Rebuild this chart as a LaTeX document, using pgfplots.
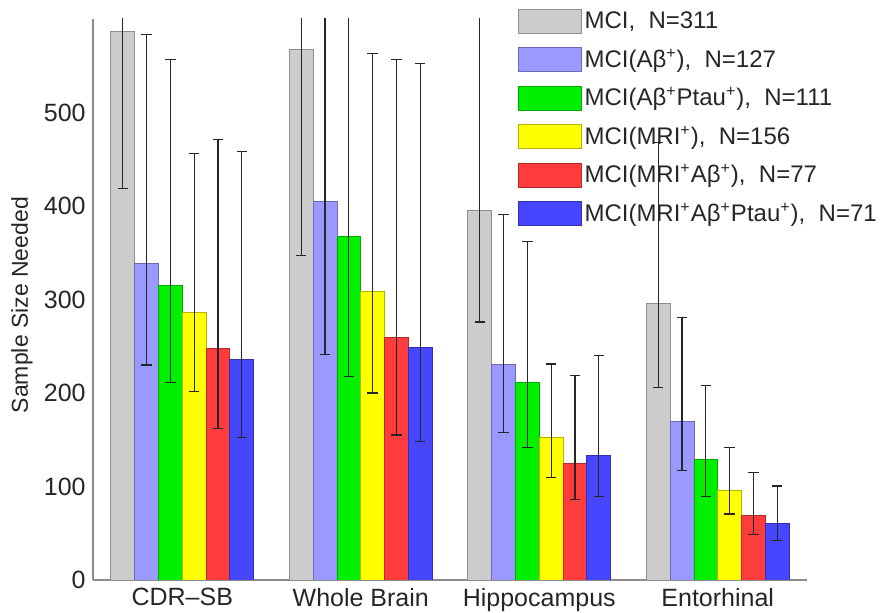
\documentclass[border=0pt]{standalone}
\usepackage{fontspec}
\setmainfont{Liberation Sans}
\usepackage{pgfplots}
\usepackage{pgfplotstable}
\pgfplotsset{compat=1.18}

\definecolor{cGray}{RGB}{204,204,204}
\definecolor{cLBlue}{RGB}{153,153,255}
\definecolor{cGreen}{RGB}{0,240,0}
\definecolor{cYellow}{RGB}{255,255,0}
\definecolor{cRed}{RGB}{255,60,60}
\definecolor{cBlue}{RGB}{70,70,255}

% x y hi lo
\pgfplotstableread{
x y hi lo
0 587 755 419
1 567 790 347
2 395 625 276
3 296 468 206
}\tMCI
\pgfplotstableread{
x y hi lo
0 339 583 230
1 405 700 241
2 231 391 158
3 170 281 117
}\tAb
\pgfplotstableread{
x y hi lo
0 315 557 211
1 367 650 218
2 211 362 142
3 129 208 89
}\tAbPt
\pgfplotstableread{
x y hi lo
0 286 456 202
1 309 563 200
2 153 231 110
3 96 141.5 70.6
}\tMRI
\pgfplotstableread{
x y hi lo
0 248 471 162
1 259 557 155
2 125 219 86
3 69.5 115 48.5
}\tMRIAb
\pgfplotstableread{
x y hi lo
0 236 458 152
1 249 552 148
2 133 240 89
3 60 100.5 42.6
}\tMRIAbPt

\begin{document}
\begin{tikzpicture}
\begin{axis}[
  scale only axis,
  width=357pt, height=280.5pt,
  xmin=-0.5, xmax=3.5, ymin=0, ymax=600,
  ybar=0pt, bar width=0.1333,
  axis x line=bottom, axis y line=left,
  axis line style={-, draw=black!45, line width=0.6pt},
  major tick length=0pt,
  xtick={0,1,2,3},
  xticklabels={CDR{\textendash}SB, Whole Brain, Hippocampus, Entorhinal},
  ytick={0,100,200,300,400,500},
  /pgf/number format/assume math mode=true,
  tick label style={font=\fontsize{12.5}{14}\selectfont, text=black!85},
  yticklabel style={inner sep=0pt, xshift=-3.5pt},
  xticklabel style={inner sep=0pt, yshift=-4pt, anchor=north},
  ylabel={Sample Size Needed},
  ylabel style={font=\fontsize{11.5}{13}\selectfont, text=black!85, at={(axis description cs:-0.0995,0.49)}, anchor=center, rotate=0},
  legend style={draw=none, fill=none, at={(rel axis cs:0.594,1.019)}, anchor=north west,
    font=\fontsize{12}{14}\selectfont, text=black!85, row sep=5.8pt, inner sep=0pt,
    nodes={inner sep=1.5pt}},
  legend cell align=left,
  legend image code/.code={\draw[#1, line width=0.5pt] (0pt,-6pt) rectangle (31.5pt,6pt);},
  error bars/y dir=both,
  error bars/y explicit,
  error bars/error bar style={black!85, line width=0.6pt},
  error bars/error mark options={black!85, line width=0.6pt, mark size=2.6pt, rotate=90},
]
\addplot[fill=cGray, draw=cGray!70!black] table[x=x, y=y, y error plus expr=\thisrow{hi}-\thisrow{y}, y error minus expr=\thisrow{y}-\thisrow{lo}] {\tMCI};
\addlegendentry{MCI,~\ N=311}
\addplot[fill=cLBlue, draw=cLBlue!70!black] table[x=x, y=y, y error plus expr=\thisrow{hi}-\thisrow{y}, y error minus expr=\thisrow{y}-\thisrow{lo}] {\tAb};
\addlegendentry{MCI(Aβ\textsuperscript{+}),~\ N=127}
\addplot[fill=cGreen, draw=cGreen!70!black] table[x=x, y=y, y error plus expr=\thisrow{hi}-\thisrow{y}, y error minus expr=\thisrow{y}-\thisrow{lo}] {\tAbPt};
\addlegendentry{MCI(Aβ\textsuperscript{+}Ptau\textsuperscript{+}),~\ N=111}
\addplot[fill=cYellow, draw=cYellow!70!black] table[x=x, y=y, y error plus expr=\thisrow{hi}-\thisrow{y}, y error minus expr=\thisrow{y}-\thisrow{lo}] {\tMRI};
\addlegendentry{MCI(MRI\textsuperscript{+}),~\ N=156}
\addplot[fill=cRed, draw=cRed!70!black] table[x=x, y=y, y error plus expr=\thisrow{hi}-\thisrow{y}, y error minus expr=\thisrow{y}-\thisrow{lo}] {\tMRIAb};
\addlegendentry{MCI(MRI\textsuperscript{+}Aβ\textsuperscript{+}),~\ N=77}
\addplot[fill=cBlue, draw=cBlue!70!black] table[x=x, y=y, y error plus expr=\thisrow{hi}-\thisrow{y}, y error minus expr=\thisrow{y}-\thisrow{lo}] {\tMRIAbPt};
\addlegendentry{MCI(MRI\textsuperscript{+}Aβ\textsuperscript{+}Ptau\textsuperscript{+}),~\ N=71}
\end{axis}
\pgfresetboundingbox
\path[use as bounding box] (current axis.south west) ++(-46.5pt,-16.5pt) rectangle ++(443pt,306.5pt);
\end{tikzpicture}
\end{document}
